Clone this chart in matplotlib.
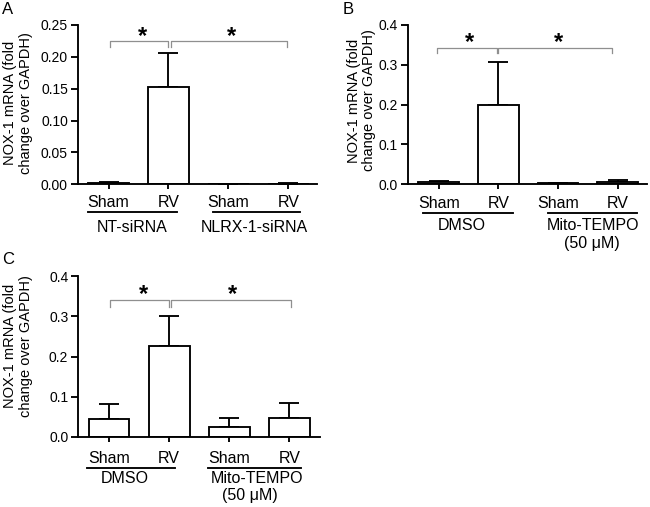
import matplotlib
matplotlib.use("Agg")
import matplotlib.pyplot as plt
from matplotlib.transforms import ScaledTranslation
import numpy as np

plt.rcParams['font.family'] = ['Liberation Sans', 'DejaVu Sans']

categories = ["Sham", "RV", "Sham", "RV"]

a_means = [0.002, 0.152, 0.0008, 0.0012]
a_err = [0.0012, 0.054, 0.0004, 0.0008]
a_groups = ["NT-siRNA", "NLRX-1-siRNA"]

b_means = [0.004, 0.198, 0.002, 0.005]
b_err = [0.003, 0.110, 0.001, 0.006]
b_groups = ["DMSO", "Mito-TEMPO", "(50 \u03bcM)"]

c_means = [0.045, 0.227, 0.026, 0.046]
c_err = [0.037, 0.074, 0.022, 0.038]
c_groups = ["DMSO", "Mito-TEMPO", "(50 \u03bcM)"]

ylabel = "NOX-1 mRNA (fold\nchange over GAPDH)"

W, H = 650, 507
fig = plt.figure(figsize=(6.5, 5.07), dpi=100)

LW = 1.35
GRAY = '#8f8f8f'


def px(v):
    return v * 0.72  # pixels -> points at 100 dpi


def panel(rect, means, errs, ymax, yticks, fmt, xlim, brackets, stars,
          ul, gtexts, ylab_pos, letter, letter_xy):
    l, b, r, t = rect
    ax = fig.add_axes([l / W, 1 - b / H, (r - l) / W, (b - t) / H])
    x = np.arange(len(means))
    ax.bar(x, means, width=0.68, color='white', edgecolor='black',
           linewidth=LW, zorder=2)
    ax.errorbar(x, means, yerr=[np.zeros(len(errs)), errs], fmt='none',
                ecolor='black', elinewidth=LW, capsize=7.5, capthick=LW,
                zorder=1)
    ax.set_ylim(0, ymax)
    ax.set_xlim(*xlim)
    ax.set_yticks(yticks)
    ax.set_yticklabels([fmt.format(v) for v in yticks], fontsize=10)
    ax.set_xticks(x)
    ax.set_xticklabels([])
    for s in ['top', 'right']:
        ax.spines[s].set_visible(False)
    for s in ['left', 'bottom']:
        ax.spines[s].set_linewidth(LW)
    ax.tick_params(axis='y', length=5, width=LW, pad=2)
    ax.tick_params(axis='x', length=3.6, width=LW)

    base = ax.get_xaxis_transform()
    for xi, c in zip(x, categories):
        ax.text(xi, 0, c, fontsize=11.5, ha='center', va='baseline',
                transform=base + ScaledTranslation(0, -px(ul[0]) / 72,
                                                   fig.dpi_scale_trans))
    for (x0, x1) in ul[2]:
        ax.plot([x0, x1], [0, 0], color='black', lw=LW, clip_on=False,
                transform=base + ScaledTranslation(0, -px(ul[1]) / 72,
                                                   fig.dpi_scale_trans))
    for (gx, gtxt, gy) in gtexts:
        ax.text(gx, 0, gtxt, fontsize=11.5, ha='center', va='baseline',
                transform=base + ScaledTranslation(0, -px(gy) / 72,
                                                   fig.dpi_scale_trans))

    for (x0, x1, y, yb) in brackets:
        ax.plot([x0, x0, x1, x1], [yb, y, y, yb], color=GRAY, lw=0.9,
                clip_on=False, zorder=3)
    for (sx, sy) in stars:
        ax.text(sx, sy, '*', fontsize=17, fontweight='bold', ha='center',
                va='center', clip_on=False)

    ax.text(ylab_pos[0], ylab_pos[1], ylabel, rotation=90, fontsize=10.5,
            ha='center', va='center', multialignment='center',
            linespacing=1.15, transform=ax.transAxes)
    fig.text(letter_xy[0] / W, 1 - letter_xy[1] / H, letter, fontsize=12,
             ha='left', va='top')
    return ax


# Panel A
panel((77.7, 184.3, 317, 25), a_means, a_err, 0.25,
      [0.0, 0.05, 0.10, 0.15, 0.20, 0.25], "{:.2f}", (-0.515, 3.48),
      [(0.02, 1.0, 0.2253, 0.216), (1.04, 2.98, 0.2253, 0.216)],
      [(0.575, 0.232), (2.06, 0.232)],
      (23, 28, [(-0.34, 1.14), (1.74, 3.2)]),
      [(0.4, a_groups[0], 48), (2.43, a_groups[1], 48)],
      (-0.249, 0.513), "A", (2, 2))

# Panel B
panel((407.7, 184, 647, 25), b_means, b_err, 0.4,
      [0.0, 0.1, 0.2, 0.3, 0.4], "{:.1f}", (-0.52, 3.49),
      [(-0.03, 0.97, 0.341, 0.330), (1.0, 2.9, 0.341, 0.330)],
      [(0.52, 0.356), (2.0, 0.356)],
      (24, 29.3, [(-0.27, 1.24), (1.83, 3.33)]),
      [(0.38, b_groups[0], 46), (2.58, b_groups[1], 46),
       (2.56, b_groups[2], 64)],
      (-0.193, 0.525), "B", (343, 2))

# Panel C
panel((78, 437, 320, 276), c_means, c_err, 0.4,
      [0.0, 0.1, 0.2, 0.3, 0.4], "{:.1f}", (-0.515, 3.51),
      [(0.02, 1.0, 0.340, 0.324), (1.03, 3.02, 0.340, 0.324)],
      [(0.575, 0.353), (2.06, 0.353)],
      (26, 31.3, [(-0.37, 1.1), (1.64, 3.2)]),
      [(0.27, c_groups[0], 46), (2.46, c_groups[1], 46),
       (2.34, c_groups[2], 63)],
      (-0.248, 0.565), "C", (2, 252))

fig.savefig("out.png", dpi=100)
